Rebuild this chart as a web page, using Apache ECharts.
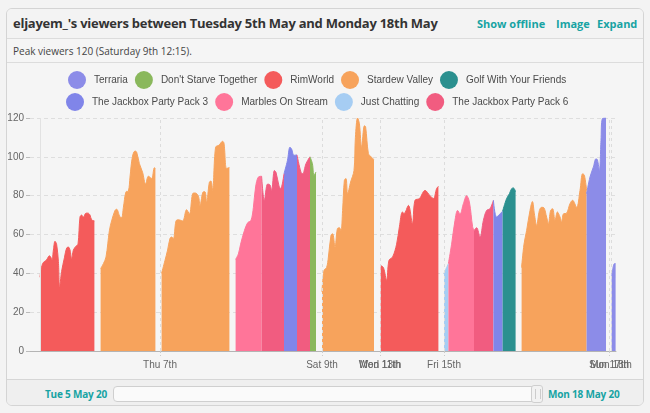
<!DOCTYPE html>
<html>
<head>
<meta charset="utf-8">
<script src="https://cdn.jsdelivr.net/npm/echarts@6/dist/echarts.min.js"></script>
<style>
  html, body { margin: 0; padding: 0; background: #f3f3f3; width: 650px; height: 413px; overflow: hidden; }
  #panel { position: absolute; left: 6px; top: 8px; width: 638px; height: 398px; border: 1px solid #d4d4d4; border-radius: 6px; background: #f5f5f5; box-sizing: border-box; overflow: hidden; }
  #head { position: absolute; left: 0; top: 0; width: 100%; height: 29px; border-bottom: 1px solid #dcdcdc; background: #f3f3f3; }
  #title { position: absolute; left: 6px; top: 5px; font: bold 13px "Open Sans", sans-serif; color: #333; letter-spacing: -0.25px; white-space: nowrap; }
  .lnk { position: absolute; top: 7px; font: bold 11px "Open Sans", sans-serif; color: #17a3a3; white-space: nowrap; }
  #sub { position: absolute; left: 0; top: 30px; width: 100%; height: 23px; border-bottom: 1px solid #dcdcdc; }
  #subtxt { position: absolute; left: 6px; top: 5px; font: 10px "Open Sans", sans-serif; color: #444; }
  #foot { position: absolute; left: 0; top: 370px; width: 100%; height: 28px; border-top: 1px solid #d6d6d6; background: #efefef; }
  .dz { position: absolute; top: 7px; font: bold 10px "Open Sans", sans-serif; color: #17a3a3; letter-spacing: -0.2px; white-space: nowrap; }
  #slider { position: absolute; left: 106px; top: 6px; width: 430px; height: 16px; border: 1px solid #cfcfcf; border-radius: 4px; background: #fafafa; box-sizing: border-box; }
  #handle { position: absolute; right: -1px; top: -2px; width: 12px; height: 18px; border: 1px solid #cfcfcf; border-radius: 3px; background: #f2f2f2; box-sizing: border-box; }
  #handle:before { content: ''; position: absolute; left: 3px; top: 3px; width: 4px; height: 10px; border-left: 1px solid #ccc; border-right: 1px solid #ccc; }
  #chart { position: absolute; left: 0; top: 62px; width: 650px; height: 317px; }
</style>
</head>
<body>
<div id="panel">
  <div id="head">
    <div id="title">eljayem_'s viewers between Tuesday 5th May and Monday 18th May</div>
    <div class="lnk" style="left:470px">Show offline</div>
    <div class="lnk" style="left:549px">Image</div>
    <div class="lnk" style="left:590px">Expand</div>
  </div>
  <div id="sub"><div id="subtxt">Peak viewers 120 (Saturday 9th 12:15).</div></div>
  <div id="foot">
    <div class="dz" style="left:38px">Tue 5 May 20</div>
    <div id="slider"><div id="handle"></div></div>
    <div class="dz" style="left:541px">Mon 18 May 20</div>
  </div>
</div>
<div id="chart"></div>
<script>
// Compressed stream-time axis (offline periods removed)
const xMin = 0, xMax = 293;
const xTickValues = [65, 146, 175, 207, 289.5];
const xTickLabels = ['Thu 7th', 'Sat 9th', 'Wed 13th', 'Fri 15th', 'Sun 17th'];
const xTickValues2 = [175, 290.5];
const xTickLabels2 = ['Mon 11th', 'Mon 18th'];
const streamStart = 5;

const games = ['Terraria', "Don't Starve Together", 'RimWorld', 'Stardew Valley', 'Golf With Your Friends',
  'The Jackbox Party Pack 3', 'Marbles On Stream', 'Just Chatting', 'The Jackbox Party Pack 6'];
const gameColors = ['#8c8ce8', '#8ab85c', '#f45b5b', '#f7a35c', '#2b908f', '#8085e9', '#ff7599', '#a6cdf3', '#f15c80'];

// [time, viewers]
const rimworldA = [[5,38],[6.3,45],[8.3,47],[9.7,49],[10.3,48.5],[11,47],[11.7,52],[12.5,56.5],[13.3,55],[14.2,46],[14.8,33],[15.8,41],[17.2,48],[18.3,53],[19.2,53.5],[20,52],[20.8,47.5],[21.7,52],[23,54],[24,55],[25,69],[25.8,70],[26.7,69],[28,71],[29,71],[30,70],[30.8,67.6],[32.2,67]];
const stardewA = [[35.3,42.4],[36.7,45],[38,48.4],[39.7,62],[40.8,67],[42.5,72.4],[43.3,73],[45,69],[45.8,68.7],[46.7,74],[48,82],[49.2,82.4],[50,89.6],[51.2,100],[52.5,103],[53.3,102.5],[54.7,96.5],[56.3,92],[57.8,86],[59.2,90],[60.8,88.8],[62.2,94.4],[62.7,94]];
const stardewB = [[65.8,40],[67.5,46.7],[68.8,52],[70,58],[70.8,58.7],[71.7,58],[73,67],[74.2,67.6],[76.3,67],[78.3,72.8],[79.7,70.6],[81.3,81],[82.5,81.4],[84.2,79.7],[85,75],[86.7,82],[87.5,82],[88.3,76.7],[89.7,87],[90.5,87.5],[91.3,82.7],[92.8,105],[94.5,106],[96.3,108],[97,107],[98.3,94],[99.7,94.5]];
const marblesA = [[102.8,47.2],[104.2,50],[105.3,55],[107.2,62],[108.8,66],[110.5,67.3],[111.7,74],[112.8,84.5],[114.2,89.6],[115.8,90]];
const jackbox6A = [[115.8,90],[117.2,77.6],[118.8,86],[120,85.5],[120.8,82.7],[122.2,93],[123,92],[124.5,85],[125.3,83.6],[127,91.3]];
const jackbox3A = [[127,91.3],[128.7,98],[130,105],[130.8,104],[132,100.8],[133.5,101]];
const jackbox6B = [[133.5,101],[135.5,92],[136.3,91.3],[138,96.5],[139.7,99.6],[140,100]];
const dontStarveA = [[140,100],[141.2,96.5],[142,90.5],[143,92.2]];
const stardewC = [[146,30.4],[147,41.5],[148.3,43],[149.2,48.4],[150.5,59.6],[151.3,60.4],[152.5,53.6],[153.7,63],[154.7,63.5],[155.5,62],[156.3,72.4],[157.2,88],[158,88.8],[158.8,81],[160.3,87],[162,93],[162.7,110],[163.8,120],[164.7,117],[165.8,105],[167.2,116],[167.8,115.5],[169.2,101.6],[170.3,100.3],[172,98.5]];
const rimworldB = [[175.3,44],[176.7,43],[178.3,36.4],[179.5,46.7],[181.3,48.4],[183.3,55],[184.7,64],[186.2,71.6],[187,70.8],[189.2,75],[191.2,65.6],[192.5,77.6],[194.7,78.5],[197.5,82.7],[200,80],[201.7,78.5],[203.3,83.6],[204.2,84.8]];
const justChattingA = [[207,40],[208.3,43],[209.2,45]];
const marblesB = [[209.2,45],[210.8,55],[212.5,67.3],[213.8,72.4],[215,70.6],[216.7,75.9],[218.3,80],[219.7,76.7],[221.3,64],[222,62]];
const jackbox6C = [[222,62],[223.3,63.5],[225,58.7],[226.7,67.3],[228.3,72.4],[230,73.3],[231.7,77.6]];
const jackbox3B = [[231.7,77.6],[233.3,69],[235,70.6],[236.3,72]];
const golfA = [[236.3,72],[238.3,78.5],[239.7,81],[240.8,83.6],[241.7,84],[242.8,82]];
const stardewD = [[245.8,43],[247,55],[248.3,62],[250,72.4],[251.2,77],[252.2,70.6],[253.3,64.7],[254.7,72.4],[255.8,74],[257,73.7],[258.3,69],[259.2,65.6],[260.3,72.4],[261.3,73.3],[262.5,67.3],[263.7,71.6],[265,69],[265.8,66.4],[266.7,70.6],[268.3,71],[270,75.9],[271.3,77.6],[273.3,74],[275,82.7],[276.3,91.3],[277.2,90.5],[278.3,82.7]];
const terrariaA = [[278.3,81],[280,89.6],[281.7,94.8],[283,99],[283.7,98.5],[284.7,93],[285.5,108.5],[286.2,119.7],[288,120]];
const terrariaB = [[290.8,37.6],[292.2,45],[292.8,45]];

const segments = [
  ['RimWorld', rimworldA], ['Stardew Valley', stardewA], ['Stardew Valley', stardewB],
  ['Marbles On Stream', marblesA], ['The Jackbox Party Pack 6', jackbox6A], ['The Jackbox Party Pack 3', jackbox3A],
  ['The Jackbox Party Pack 6', jackbox6B], ["Don't Starve Together", dontStarveA], ['Stardew Valley', stardewC],
  ['RimWorld', rimworldB], ['Just Chatting', justChattingA], ['Marbles On Stream', marblesB],
  ['The Jackbox Party Pack 6', jackbox6C], ['The Jackbox Party Pack 3', jackbox3B], ['Golf With Your Friends', golfA],
  ['Stardew Valley', stardewD], ['Terraria', terrariaA], ['Terraria', terrariaB]
];

const chart = echarts.init(document.getElementById('chart'), null, { renderer: 'canvas' });

const series = [];
games.forEach((g, i) => {
  series.push({ name: g, type: 'line', data: [], color: gameColors[i] });
});
segments.forEach(([g, d]) => {
  const c = gameColors[games.indexOf(g)];
  series.push({
    name: g, type: 'line', data: d, smooth: 0.35, showSymbol: false, symbol: 'none',
    color: c, lineStyle: { width: 1, color: c }, areaStyle: { color: c, opacity: 1 },
    z: 3
  });
});
series.push({
  type: 'line', data: [], silent: true,
  markLine: {
    silent: true, symbol: 'none', label: { show: false }, animation: false,
    data: xTickValues.concat(xTickValues2).map(v => ({ xAxis: v, lineStyle: { type: [3, 3], color: '#dcdcdc', width: 1 } }))
      .concat([{ xAxis: streamStart, lineStyle: { type: 'solid', color: '#e2e2e2', width: 1 } }])
  },
  z: 1
});

const labelMap = (vals, labs) => (v) => { const i = vals.indexOf(v); return i >= 0 ? labs[i] : ''; };

const legendBase = { icon: 'circle', itemWidth: 18, itemHeight: 18, itemGap: 7,
  textStyle: { fontSize: 10, color: '#4a4a4a', padding: [0, 0, 0, 3] } };

chart.setOption({
  animation: false,
  backgroundColor: 'transparent',
  textStyle: { fontFamily: '"Liberation Sans", Arial, sans-serif' },
  legend: [
    Object.assign({ data: games.slice(0, 5), top: 4, left: 63 }, legendBase),
    Object.assign({ data: games.slice(5), top: 26, left: 61 }, legendBase)
  ],
  grid: { left: 30, right: 34, top: 56, bottom: 28, containLabel: false },
  xAxis: [
    { type: 'value', min: xMin, max: xMax, position: 'bottom',
      axisLine: { show: true, lineStyle: { color: '#b4b4b4' } },
      axisTick: { show: true, customValues: xTickValues, length: 5, lineStyle: { color: '#ccc', type: [2, 2] } },
      axisLabel: { customValues: xTickValues, formatter: labelMap(xTickValues, xTickLabels), fontSize: 10, color: '#666', margin: 9, hideOverlap: false },
      splitLine: { show: false } },
    { type: 'value', min: xMin, max: xMax, position: 'bottom', gridIndex: 0,
      axisLine: { show: false }, axisTick: { show: false },
      axisLabel: { customValues: xTickValues2, formatter: labelMap(xTickValues2, xTickLabels2), fontSize: 10, color: '#666', margin: 9, hideOverlap: false },
      splitLine: { show: false } }
  ],
  yAxis: {
    type: 'value', min: 0, max: 120, interval: 20,
    axisLine: { show: false },
    axisTick: { show: true, length: 4, lineStyle: { color: '#bbb' } },
    axisLabel: { fontSize: 10, color: '#666', margin: 6 },
    splitLine: { show: true, lineStyle: { type: [4, 3], color: '#dedede' } }
  },
  series: series
});
</script>
</body>
</html>
